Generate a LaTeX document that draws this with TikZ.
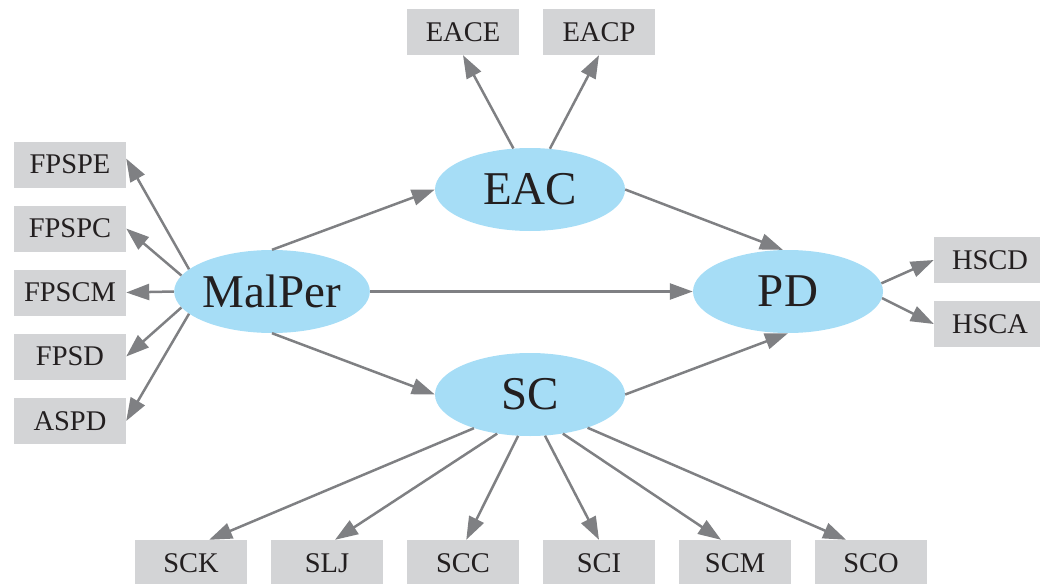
\documentclass[tikz,border=0pt]{standalone}
\usepackage{fontspec}
\setmainfont{Liberation Serif}
\usetikzlibrary{arrows.meta,shapes.geometric}
\definecolor{boxgray}{HTML}{D3D4D6}
\definecolor{ellblue}{HTML}{A6DDF6}
\definecolor{edgegray}{HTML}{7F8083}
\definecolor{txt}{HTML}{231F20}
\tikzset{
  lat/.style={ellipse, fill=ellblue, minimum width=190pt, minimum height=83pt, inner sep=0pt, font=\fontsize{47}{50}\selectfont, text=txt},
  obs/.style={rectangle, fill=boxgray, minimum width=112pt, minimum height=46pt, inner sep=0pt, font=\fontsize{28.5}{30}\selectfont, text=txt},
  edge/.style={draw=edgegray, line width=2.5pt, -{Triangle[length=23pt,width=16pt]}}
}
\begin{document}
\begin{tikzpicture}[x=1pt,y=-1pt]
\useasboundingbox (0,0) rectangle (1040,583);
% latent
\node[lat] (EAC) at (530,189.5) {EAC};
\node[lat] (MalPer) at (272,291.5) {MalPer};
\node[lat] (PD) at (788,291.5) {PD};
\node[lat] (SC) at (530,394.5) {SC};
% top
\node[obs] (EACE) at (463,32) {EACE};
\node[obs] (EACP) at (599,32) {EACP};
% left
\node[obs] (FPSPE) at (70,164.5) {FPSPE};
\node[obs] (FPSPC) at (70,228.5) {FPSPC};
\node[obs] (FPSCM) at (70,292.5) {FPSCM};
\node[obs] (FPSD) at (70,356.5) {FPSD};
\node[obs] (ASPD) at (70,421) {ASPD};
% right
\node[obs] (HSCD) at (990,260) {HSCD};
\node[obs] (HSCA) at (990,324) {HSCA};
% bottom
\node[obs] (SCK) at (191,563) {SCK};
\node[obs] (SLJ) at (327,563) {SLJ};
\node[obs] (SCC) at (463,563) {SCC};
\node[obs] (SCI) at (599,563) {SCI};
\node[obs] (SCM) at (735,563) {SCM};
\node[obs] (SCO) at (871,563) {SCO};
% edges
\draw[edge] (EAC.112) -- (EACE.south);
\draw[edge] (EAC.64) -- (EACP.south);
\draw[edge] (MalPer.165) -- (FPSPE.6);
\draw[edge] (MalPer.170) -- (FPSPC.east);
\draw[edge] (MalPer.west) -- (FPSCM.east);
\draw[edge] (MalPer.190) -- (FPSD.east);
\draw[edge] (MalPer.195) -- (ASPD.east);
\draw[edge] (MalPer.north) -- (EAC.west);
\draw[edge] (MalPer.east) -- (PD.west);
\draw[edge] (MalPer.south) -- (SC.west);
\draw[edge] (EAC.east) -- (PD.97);
\draw[edge] (SC.east) -- (PD.south);
\draw[edge] (PD.5) -- (HSCD.west);
\draw[edge] (PD.-4) -- (HSCA.west);
\draw[edge] (SC.211) -- (SCK.52);
\draw[edge] (SC.230) -- (SLJ.71);
\draw[edge] (SC.254) -- (SCC.82);
\draw[edge] (SC.-70) -- (SCI.north);
\draw[edge] (SC.-50) -- (SCM.121);
\draw[edge] (SC.-30) -- (SCO.137);
\end{tikzpicture}
\end{document}
